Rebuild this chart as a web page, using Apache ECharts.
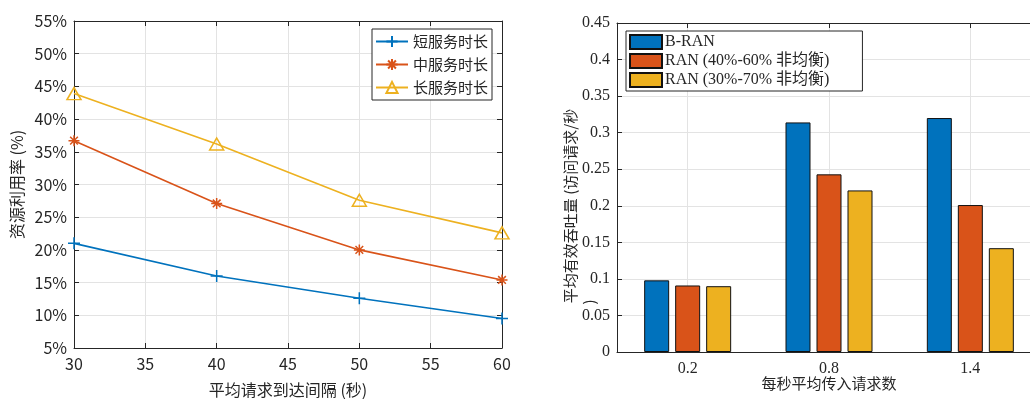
<!DOCTYPE html>
<html>
<head>
<meta charset="utf-8">
<script src="https://cdn.jsdelivr.net/npm/echarts@6/dist/echarts.min.js"></script>
<style>html,body{margin:0;padding:0;background:#fff}#main{width:1030px;height:399px}</style>
</head>
<body>
<div id="main"></div>
<script>
// 左图: 资源利用率
var lineX = [30, 40, 50, 60];
var shortData = [21.0, 16.0, 12.6, 9.5];
var midData = [36.7, 27.1, 20.0, 15.4];
var longData = [43.9, 36.2, 27.6, 22.6];
var lineNames = ['短服务时长', '中服务时长', '长服务时长'];
// 右图: 吞吐量
var barCats = ['0.2', '0.8', '1.4'];
var branData = [0.098, 0.314, 0.320];
var ran46Data = [0.091, 0.243, 0.201];
var ran37Data = [0.090, 0.221, 0.142];
var barNames = ['B-RAN', 'RAN (40%-60% 非均衡)', 'RAN (30%-70% 非均衡)'];

var chart = echarts.init(document.getElementById('main'));
var txt = '#262626';
var gridC = '#e3e3e3';
var sans = 'Noto Sans CJK SC';
var serif = 'Liberation Serif, Noto Sans CJK SC';

function pairs(ys) {
    return lineX.map(function (x, i) { return [x, ys[i]]; });
}
function boxAxis(pos, grid, extra) {
    var a = {
        gridIndex: grid, position: pos,
        axisLine: {show: true, lineStyle: {color: txt, width: 1}},
        axisTick: {show: true, inside: true, length: 5, lineStyle: {color: txt}},
        axisLabel: {show: false},
        splitLine: {show: false}
    };
    for (var k in extra) a[k] = extra[k];
    return a;
}

var option = {
    animation: false,
    backgroundColor: '#fff',
    grid: [
        {left: 74, top: 21, width: 428, height: 327, outerBoundsMode: 'none'},
        {left: 617, top: 23, width: 424, height: 329, outerBoundsMode: 'none'}
    ],
    legend: [
        {
            data: lineNames, left: 372, top: 29, orient: 'vertical',
            itemWidth: 32, itemHeight: 14, itemGap: 8,
            padding: [5, 4, 5, 3],
            borderColor: txt, borderWidth: 1, backgroundColor: '#fff',
            textStyle: {fontFamily: sans, fontSize: 15, color: txt}
        },
        {
            data: barNames, left: 626, top: 31, orient: 'vertical', icon: 'rect',
            itemWidth: 32, itemHeight: 14, itemGap: 3,
            padding: [3, 33, 3, 3],
            borderColor: txt, borderWidth: 1, backgroundColor: '#fff',
            textStyle: {fontFamily: serif, fontSize: 16, color: txt, padding: [0, 0, 0, -2]}
        }
    ],
    xAxis: [
        {
            type: 'value', gridIndex: 0, min: 30, max: 60, interval: 5,
            name: '平均请求到达间隔 (秒)', nameLocation: 'middle', nameGap: 34, nameMoveOverlap: false,
            nameTextStyle: {fontFamily: sans, fontSize: 16, color: txt},
            axisLine: {lineStyle: {color: txt}},
            axisTick: {show: true, inside: true, length: 5, lineStyle: {color: txt}},
            axisLabel: {fontFamily: sans, fontSize: 16, color: txt, margin: 8},
            splitLine: {show: true, lineStyle: {color: gridC}}
        },
        boxAxis('top', 0, {type: 'value', min: 30, max: 60, interval: 5}),
        {
            type: 'category', gridIndex: 1, data: barCats,
            name: '每秒平均传入请求数', nameLocation: 'middle', nameGap: 24, nameMoveOverlap: false,
            nameTextStyle: {fontFamily: sans, fontSize: 15, color: txt},
            axisLine: {lineStyle: {color: txt}},
            axisTick: {show: true, inside: true, length: 5, alignWithLabel: true, lineStyle: {color: txt}},
            axisLabel: {fontFamily: serif, fontSize: 16, color: txt, margin: 9},
            splitLine: {show: true, alignWithLabel: true, lineStyle: {color: gridC}}
        },
        boxAxis('top', 1, {type: 'category', data: barCats,
            axisTick: {show: true, inside: true, length: 5, alignWithLabel: true, lineStyle: {color: txt}}})
    ],
    yAxis: [
        {
            type: 'value', gridIndex: 0, min: 5, max: 55, interval: 5,
            name: '资源利用率 (%)', nameLocation: 'middle', nameGap: 49, nameMoveOverlap: false,
            nameTextStyle: {fontFamily: sans, fontSize: 16, color: txt},
            axisLine: {show: true, lineStyle: {color: txt}},
            axisTick: {show: true, inside: true, length: 5, lineStyle: {color: txt}},
            axisLabel: {fontFamily: sans, fontSize: 16, color: txt, margin: 7, formatter: '{value}%'},
            splitLine: {show: true, lineStyle: {color: gridC}}
        },
        boxAxis('right', 0, {type: 'value', min: 5, max: 55, interval: 5}),
        {
            type: 'value', gridIndex: 1, min: 0, max: 0.45, interval: 0.05,
            axisLine: {show: true, lineStyle: {color: txt}},
            axisTick: {show: true, inside: true, length: 5, lineStyle: {color: txt}},
            axisLabel: {fontFamily: serif, fontSize: 16, color: txt, margin: 7},
            splitLine: {show: true, lineStyle: {color: gridC}}
        }
    ],
    graphic: [
        {type: 'text', x: 570, y: 206, rotation: Math.PI / 2,
            style: {text: '平均有效吞吐量 (访问请求/秒', fontFamily: sans, fontSize: 15, fill: txt,
                align: 'center', verticalAlign: 'middle'}},
        {type: 'text', x: 589, y: 302, rotation: Math.PI / 2,
            style: {text: ')', fontFamily: sans, fontSize: 15, fill: txt,
                align: 'center', verticalAlign: 'middle'}}
    ],
    series: [
        {
            name: lineNames[0], type: 'line', xAxisIndex: 0, yAxisIndex: 0,
            data: pairs(shortData), color: '#0072BD',
            symbol: 'path://M5,0L5,10M0,5L10,5', symbolSize: 12,
            lineStyle: {width: 1.6, color: '#0072BD'},
            itemStyle: {color: '#0072BD', borderColor: '#0072BD', borderWidth: 1.5}
        },
        {
            name: lineNames[1], type: 'line', xAxisIndex: 0, yAxisIndex: 0,
            data: pairs(midData), color: '#D95319',
            symbol: 'path://M5,0L5,10M0,5L10,5M1.5,1.5L8.5,8.5M8.5,1.5L1.5,8.5', symbolSize: 11,
            lineStyle: {width: 1.6, color: '#D95319'},
            itemStyle: {color: '#D95319', borderColor: '#D95319', borderWidth: 1.5}
        },
        {
            name: lineNames[2], type: 'line', xAxisIndex: 0, yAxisIndex: 0,
            data: pairs(longData), color: '#EDB120',
            symbol: 'triangle', symbolSize: [14, 12],
            lineStyle: {width: 1.6, color: '#EDB120'},
            itemStyle: {color: 'rgba(255,255,255,0)', borderColor: '#EDB120', borderWidth: 1.5}
        },
        {
            name: barNames[0], type: 'bar', xAxisIndex: 2, yAxisIndex: 2,
            data: branData, barWidth: 25, barGap: '24%',
            itemStyle: {color: '#0072BD', borderColor: '#111', borderWidth: 1}
        },
        {
            name: barNames[1], type: 'bar', xAxisIndex: 2, yAxisIndex: 2,
            data: ran46Data, barWidth: 25, barGap: '24%',
            itemStyle: {color: '#D95319', borderColor: '#111', borderWidth: 1}
        },
        {
            name: barNames[2], type: 'bar', xAxisIndex: 2, yAxisIndex: 2,
            data: ran37Data, barWidth: 25, barGap: '24%',
            itemStyle: {color: '#EDB120', borderColor: '#111', borderWidth: 1}
        }
    ]
};
chart.setOption(option);
</script>
</body>
</html>
